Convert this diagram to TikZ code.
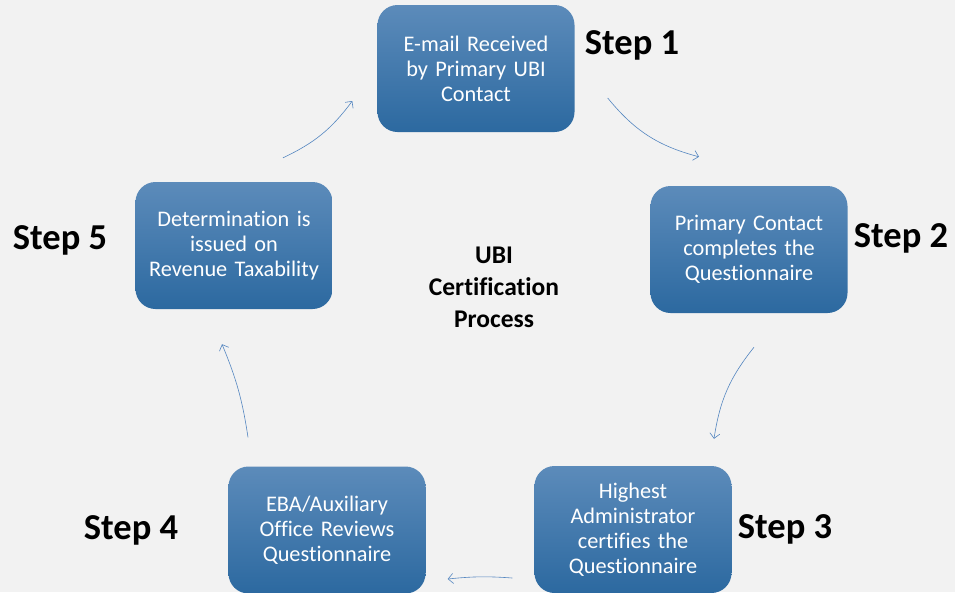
\documentclass[tikz,border=0pt]{standalone}
\usepackage{fontspec}
\setmainfont{Carlito}[Ligatures=NoCommon]
\usepackage{xcolor}
\usepackage{tikz}
\usetikzlibrary{positioning,arrows.meta,calc}
\definecolor{ubibg}{RGB}{242,242,242}
\definecolor{ubitop}{RGB}{92,139,186}
\definecolor{ubibot}{RGB}{44,105,160}
\definecolor{ubiarr}{RGB}{84,134,192}
\tikzset{
	stepbox/.style = { rectangle, rounded corners=20pt, top color=ubitop, bottom color=ubibot,
		draw=none, text=white, align=center, text width=185pt, inner xsep=6pt, inner ysep=0pt,
		minimum width=197pt, minimum height=127pt, font=\fontsize{22.3}{25}\selectfont },
	lbl/.style = { inner sep=0pt, font=\fontsize{36.5}{40}\selectfont\bfseries },
	ttl/.style = { align=center, font=\fontsize{25.5}{32}\selectfont\bfseries },
	flow/.style = { ->, draw=ubiarr, line width=0.6pt },
}
\begin{document}
\begin{tikzpicture}[x=1pt,y=-1pt,>={Straight Barb[length=5pt,width=10pt]}]
\fill[ubibg] (0,0) rectangle (955,592);
\useasboundingbox (0,0) rectangle (955,592);

\node (s1) [stepbox] at (476,68.5)  {E-mail Received\\by Primary UBI\\Contact};
\node (s2) [stepbox] at (749,249.5) {Primary Contact\\completes the\\Questionnaire};
\node (s3) [stepbox] at (633,529.5) {Highest\\Administrator\\certifies the\\Questionnaire};
\node (s4) [stepbox] at (327,530)   {EBA/Auxiliary\\Office Reviews\\Questionnaire};
\node (s5) [stepbox] at (234,245.5) {Determination is\\issued on\\Revenue Taxability};

\node (l1) [lbl,right=10pt of s1,yshift=23.5pt] {Step 1};
\node (l2) [lbl,right=6pt of s2,yshift=11.5pt]  {Step 2};
\node (l3) [lbl,right=6pt of s3]                {Step 3};
\node (l4) [lbl,left=50pt of s4]                {Step 4};
\node (l5) [lbl,left=28pt of s5,yshift=5.5pt]   {Step 5};

\node (ttl) [ttl] at (494,287) {UBI\\Certification\\Process};

% arrow ends, off the boxes
\coordinate (a1s) at ($(s1.east)+(33,29.5)$);
\coordinate (a1e) at ($(s2.north)+(-50,-29)$);
\coordinate (a2s) at ($(s2.south)+(5,34)$);
\coordinate (a2e) at ($(s3.north)+(81,-27)$);
\coordinate (a3s) at ($(s3.west)+(-22,48.5)$);
\coordinate (a3e) at ($(s4.east)+(22,49)$);
\coordinate (a4s) at ($(s4.north)+(-79,-29)$);
\coordinate (a4e) at ($(s5.south)+(-12,35)$);
\coordinate (a5s) at ($(s5.north)+(49,-24)$);
\coordinate (a5e) at ($(s1.west)+(-25,32.5)$);

\draw[flow] (a1s) to[bend right=18] (a1e);
\draw[flow] (a2s) to[bend right=15] (a2e);
\draw[flow] (a3s) to[bend right=5]  (a3e);
\draw[flow] (a4s) to[bend right=7]  (a4e);
\draw[flow] (a5s) to[bend right=14] (a5e);

\end{tikzpicture}
\end{document}
